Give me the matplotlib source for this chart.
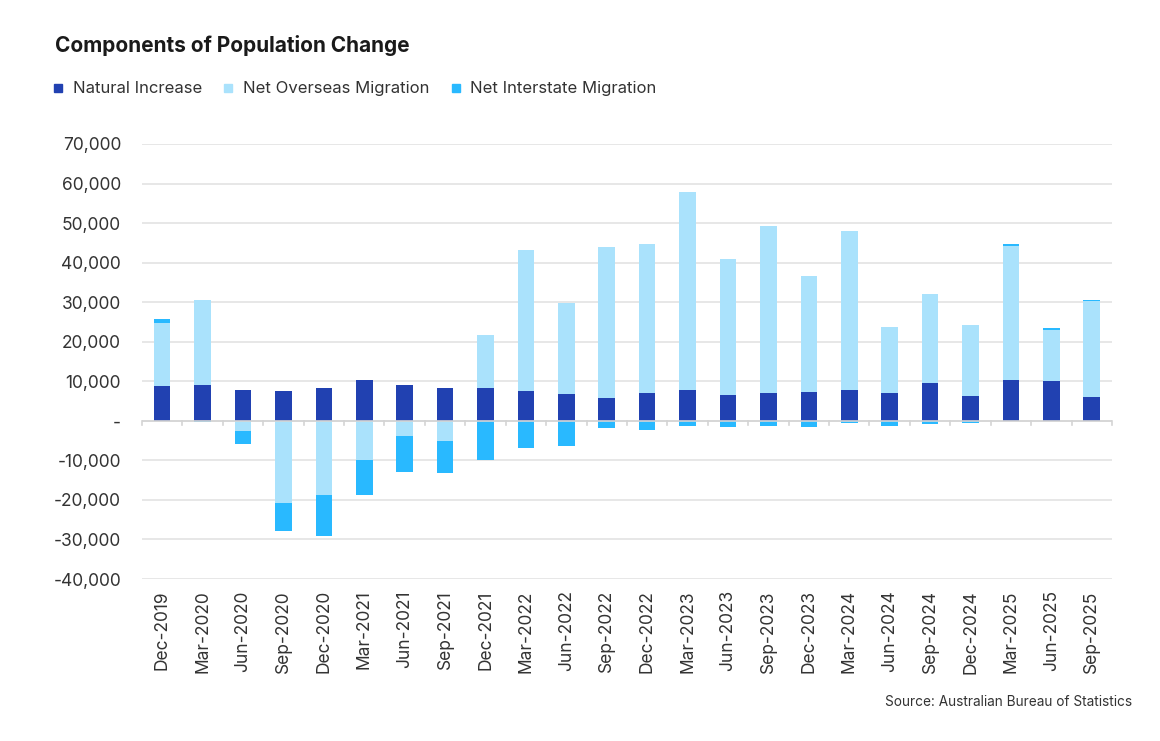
import numpy as np
import matplotlib.pyplot as plt
from matplotlib.lines import Line2D
from matplotlib.ticker import FuncFormatter

plt.rcParams['font.family'] = ['Inter', 'DejaVu Sans']

quarters = ['Dec-2019', 'Mar-2020', 'Jun-2020', 'Sep-2020', 'Dec-2020', 'Mar-2021',
            'Jun-2021', 'Sep-2021', 'Dec-2021', 'Mar-2022', 'Jun-2022', 'Sep-2022',
            'Dec-2022', 'Mar-2023', 'Jun-2023', 'Sep-2023', 'Dec-2023', 'Mar-2024',
            'Jun-2024', 'Sep-2024', 'Dec-2024', 'Mar-2025', 'Jun-2025', 'Sep-2025']

natural_increase = [8700, 9100, 7900, 7600, 8300, 10400, 9000, 8400, 8250, 7500, 6900, 5700,
                    7000, 7750, 6550, 7050, 7400, 7900, 7050, 9600, 6300, 10350, 10000, 5900]
net_overseas = [16000, 21400, -2500, -20800, -18800, -9900, -3950, -5100, 13350, 35700, 22800, 38200,
                37700, 50000, 34350, 42300, 29200, 40000, 16600, 22500, 17900, 33850, 13000, 24300]
net_interstate = [1100, -400, -3450, -7000, -10300, -8900, -9000, -8000, -9800, -6800, -6400, -1850,
                  -2350, -1200, -1450, -1250, -1600, -600, -1350, -850, -650, 400, 350, 350]

series = [
    ('Natural Increase', natural_increase, '#2141B1'),
    ('Net Overseas Migration', net_overseas, '#AAE2FC'),
    ('Net Interstate Migration', net_interstate, '#29B9FF'),
]

fig = plt.figure(figsize=(11.6, 7.41), dpi=100)
ax = fig.add_axes([0.1224, 0.2186, 0.8362, 0.5871])

x = np.arange(len(quarters))
pos_base = np.zeros(len(quarters))
neg_base = np.zeros(len(quarters))
for name, vals, col in series:
    v = np.array(vals, dtype=float)
    base = np.where(v >= 0, pos_base, neg_base)
    ax.bar(x, v, bottom=base, width=0.41, color=col, zorder=3)
    pos_base = pos_base + np.where(v >= 0, v, 0)
    neg_base = neg_base + np.where(v < 0, v, 0)

ax.set_xlim(-0.5, len(quarters) - 0.5)
ax.set_ylim(-40000, 70000)
ax.set_yticks(np.arange(-40000, 70001, 10000))


def fmt(v, pos):
    if v == 0:
        return '-'
    return f'{int(v):,}'


ax.yaxis.set_major_formatter(FuncFormatter(fmt))
ax.grid(axis='y', color='#E3E3E3', linewidth=1.2, zorder=0)
for s in ax.spines.values():
    s.set_visible(False)
ax.axhline(0, color='#D4D4D4', linewidth=1.2, zorder=4)

ax.tick_params(axis='y', length=0, pad=15, labelsize=12.5, labelcolor='#333333')
ax.set_xticks(x)
ax.set_xticklabels(quarters, rotation=90, fontsize=12.5, color='#333333')
ax.tick_params(axis='x', length=0, pad=8)

# little ticks on the zero line between categories
for b in np.arange(-0.5, len(quarters), 1.0):
    ax.plot([b, b], [0, -1100], color='#D4D4D4', linewidth=1.2, zorder=4, clip_on=False)

fig.text(0.047, 0.939, 'Components of Population Change', fontsize=15, fontweight='bold',
         color='#1A1A1A', va='center', ha='left')

handles = [Line2D([0], [0], marker='s', linestyle='none', markersize=6,
                  markerfacecolor=col, markeredgecolor=col, label=name)
           for name, vals, col in series]
fig.legend(handles=handles, loc='center left', bbox_to_anchor=(0.046, 0.88), ncol=3,
           frameon=False, fontsize=12, handlelength=0.6, handletextpad=0.55,
           columnspacing=1.3, borderpad=0, borderaxespad=0, labelcolor='#333333')

fig.text(0.976, 0.053, 'Source: Australian Bureau of Statistics', fontsize=9.8,
         color='#333333', ha='right', va='center')

fig.savefig('out.png', dpi=100)
